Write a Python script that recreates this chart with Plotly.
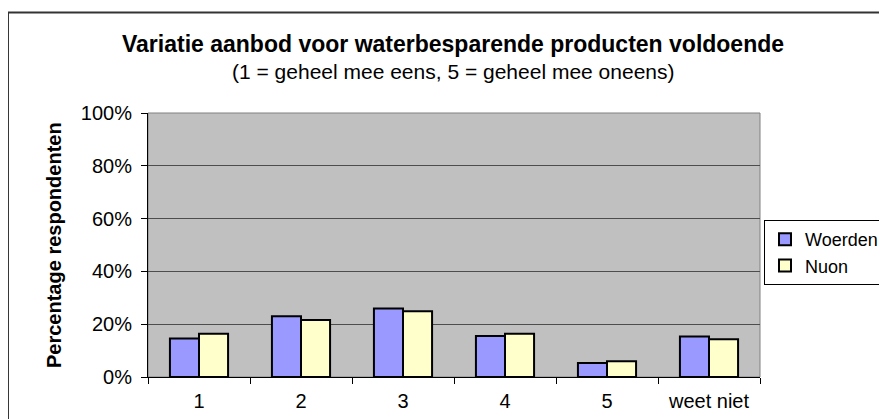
import plotly.graph_objects as go

categories = ["1", "2", "3", "4", "5", "weet niet"]
woerden = [0.146, 0.230, 0.259, 0.155, 0.053, 0.153]
nuon = [0.164, 0.216, 0.249, 0.164, 0.060, 0.143]
y_ticks = [0, 0.2, 0.4, 0.6, 0.8, 1.0]
y_tick_labels = ["0%", "20%", "40%", "60%", "80%", "100%"]

FONT = "Arial, Liberation Sans, sans-serif"

# the page body has an 8px margin, so the figure is sized to fill the rest
W, H = 879, 411

fig = go.Figure()
fig.add_trace(go.Bar(x=categories, y=woerden, name="Woerden",
                     marker=dict(color="#9999FF", line=dict(color="black", width=2))))
fig.add_trace(go.Bar(x=categories, y=nuon, name="Nuon",
                     marker=dict(color="#FFFFCC", line=dict(color="black", width=2))))

fig.update_layout(
    width=W, height=H,
    margin=dict(l=140, r=127, t=105, b=42, autoexpand=False),
    paper_bgcolor="white",
    plot_bgcolor="#C0C0C0",
    barmode="group",
    bargap=0.43,
    bargroupgap=0,
    font=dict(family=FONT, size=20, color="black"),
    showlegend=True,
    legend=dict(xref="container", yref="container",
                x=(764 - 8) / W, y=1 - (220 - 8) / H, xanchor="left", yanchor="top",
                bordercolor="black", borderwidth=1, bgcolor="white",
                font=dict(size=18), tracegroupgap=0, itemwidth=30),
    xaxis=dict(showline=True, linecolor="black", linewidth=1,
               ticks="outside", ticklen=6, tickcolor="black",
               tickson="boundaries", showgrid=False,
               ticklabelstandoff=6,
               tickfont=dict(size=20)),
    yaxis=dict(range=[0, 1], tickvals=y_ticks, ticktext=y_tick_labels,
               showline=True, linecolor="black", linewidth=1,
               ticks="outside", ticklen=6, tickcolor="black",
               showgrid=True, gridcolor="#4d4d4d", gridwidth=1,
               ticklabelstandoff=5,
               zeroline=False, tickfont=dict(size=20)),
    shapes=[
        dict(type="rect", xref="paper", yref="paper", x0=0, x1=1, y0=0, y1=1,
             line=dict(color="#808080", width=1), layer="below"),
        dict(type="rect", xref="paper", yref="paper",
             x0=-0.2288, x1=1.25, y0=-0.3, y1=1.3806,
             line=dict(color="#333333", width=2)),
    ],
    annotations=[
        dict(text="<b>Variatie aanbod voor waterbesparende producten voldoende</b>",
             xref="paper", yref="paper", x=0.498, y=1.263,
             xanchor="center", yanchor="middle", showarrow=False,
             font=dict(size=23)),
        dict(text="(1 = geheel mee eens, 5 = geheel mee oneens)",
             xref="paper", yref="paper", x=0.498, y=1.158,
             xanchor="center", yanchor="middle", showarrow=False,
             font=dict(size=21)),
        dict(text="<b>Percentage respondenten</b>",
             xref="paper", yref="paper", x=-0.1536, y=0.5,
             xanchor="center", yanchor="middle", showarrow=False,
             textangle=-90, font=dict(size=20)),
    ],
)

fig.write_html("out.html")
